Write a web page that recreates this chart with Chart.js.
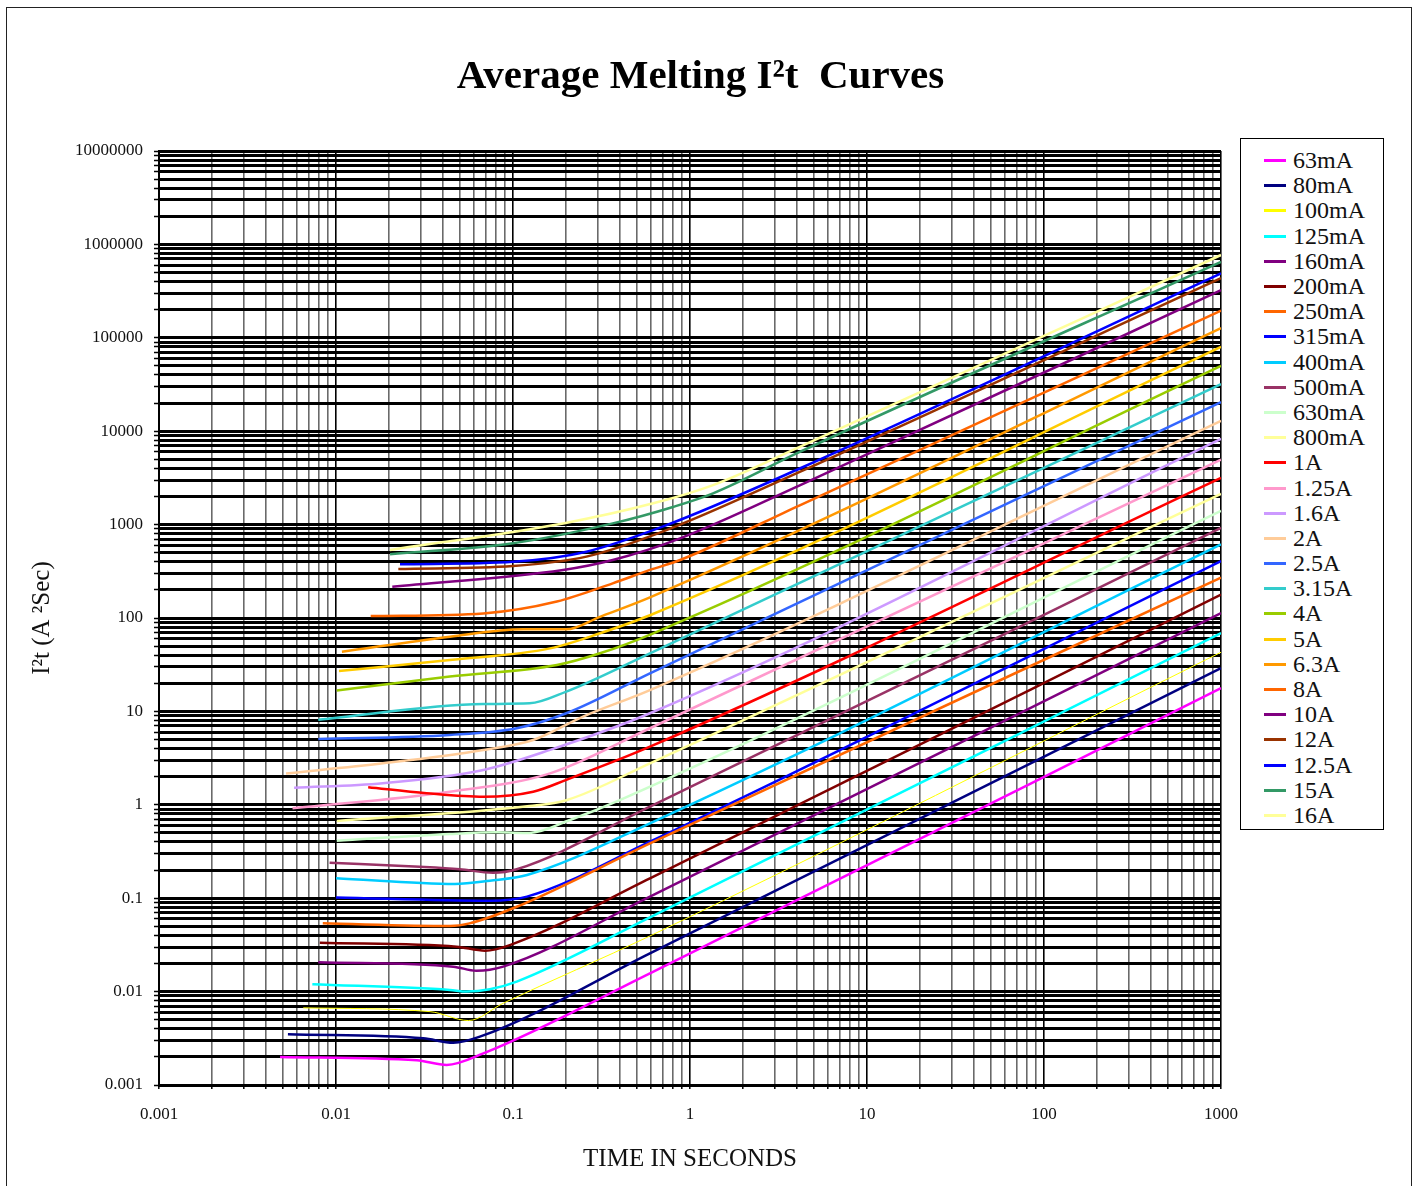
<!DOCTYPE html>
<html>
<head>
<meta charset="utf-8">
<title>Average Melting I2t Curves</title>
<script src="https://cdn.jsdelivr.net/npm/chart.js"></script>
<style>
  html, body { margin: 0; padding: 0; background: #fff; overflow: hidden; }
  #wrap { position: relative; width: 1417px; height: 1186px; }
  #frame { position: absolute; left: 6px; top: 7px; width: 1406px; height: 1220px;
           border: 1.5px solid #222; box-sizing: border-box; }
  #chart-box { position: absolute; left: 0; top: 0; width: 1417px; height: 1186px; }
  #legend { position: absolute; left: 1240px; top: 138px; width: 144px; height: 692px;
            border: 1px solid #000; box-sizing: border-box; padding-top: 9px; background: #fff;
            font-family: 'Liberation Serif', 'Times New Roman', serif; font-size: 24px; color: #111; }
  #legend .item { height: 25.2px; display: flex; align-items: center; white-space: nowrap; }
  #legend .swatch { width: 22px; margin-left: 23px; margin-right: 7px; }
</style>
</head>
<body>
<div id="wrap">
  <div id="frame"></div>
  <div id="chart-box"><canvas id="melting-chart"></canvas></div>
  <div id="legend"></div>
</div>
<script>
// tick labels (decades) for both log axes
const xTickLabels = ['0.001', '0.01', '0.1', '1', '10', '100', '1000'];
const yTickLabels = ['0.001', '0.01', '0.1', '1', '10', '100', '1000', '10000',
                     '100000', '1000000', '10000000'];

// fuse ratings, in legend order
const ratings = ['63mA', '80mA', '100mA', '125mA', '160mA', '200mA', '250mA', '315mA',
                 '400mA', '500mA', '630mA', '800mA', '1A', '1.25A', '1.6A', '2A', '2.5A',
                 '3.15A', '4A', '5A', '6.3A', '8A', '10A', '12A', '12.5A', '15A', '16A'];

// [time in seconds, I2t in A2s]
const c63mA  = [[0.00483, 0.0020], [0.0286, 0.00184], [0.0422, 0.00164], [0.068, 0.00218], [0.594, 0.0157], [1000, 17.8]];
const c80mA  = [[0.00535, 0.00349], [0.0311, 0.00316], [0.046, 0.00284], [0.065, 0.00329], [0.594, 0.0257], [1000, 29]];
const c100mA = [[0.00653, 0.0067], [0.034, 0.0061], [0.056, 0.0049], [0.088, 0.0075], [0.594, 0.0394], [1000, 43]];
const c125mA = [[0.00735, 0.0120], [0.044, 0.0104], [0.0546, 0.0100], [0.074, 0.0106], [0.105, 0.0128], [0.594, 0.0623], [1000, 69]];
const c160mA = [[0.00794, 0.0206], [0.046, 0.0185], [0.0621, 0.0167], [0.088, 0.0185], [0.594, 0.104], [1000, 113]];
const c200mA = [[0.0081, 0.0334], [0.048, 0.0303], [0.0696, 0.0274], [0.096, 0.0315], [0.594, 0.163], [1000, 178]];
const c250mA = [[0.00842, 0.0538], [0.044, 0.0504], [0.0568, 0.0538], [0.105, 0.081], [0.594, 0.387], [1000, 270]];
const c315mA = [[0.0100, 0.102], [0.074, 0.094], [0.12, 0.104], [0.594, 0.403], [1000, 407]];
const c400mA = [[0.0100, 0.164], [0.047, 0.142], [0.074, 0.154], [0.12, 0.177], [0.594, 0.634], [1000, 615]];
const c500mA = [[0.0092, 0.24], [0.0297, 0.217], [0.05, 0.204], [0.077, 0.187], [0.105, 0.204], [0.594, 0.955], [1000, 920]];
const c630mA = [[0.0101, 0.413], [0.044, 0.487], [0.081, 0.507], [0.124, 0.50], [0.21, 0.687], [0.401, 1.12], [1000, 1400]];
const c800mA = [[0.0101, 0.671], [0.124, 0.97], [0.2, 1.12], [0.594, 2.78], [1000, 2130]];
const c1A    = [[0.0152, 1.54], [0.0325, 1.33], [0.068, 1.22], [0.13, 1.38], [0.2, 1.85], [0.594, 4.19], [1000, 3160]];
const c1_25A = [[0.00568, 0.916], [0.044, 1.38], [0.162, 2.17], [0.594, 6.6], [1000, 4950]];
const c1_6A  = [[0.0058, 1.52], [0.0184, 1.70], [0.068, 2.36], [0.162, 3.87], [0.594, 9.55], [1000, 8300]];
const c2A    = [[0.00522, 2.16], [0.0184, 2.78], [0.068, 3.87], [0.13, 4.94], [0.249, 8.8], [0.594, 16.9], [1000, 12900]];
const c2_5A  = [[0.00794, 5.06], [0.044, 5.59], [0.105, 6.6], [0.2, 9.55], [0.594, 25.6], [1000, 20500]];
const c3_15A = [[0.00794, 8.15], [0.068, 12.0], [0.124, 12.2], [0.2, 16.3], [0.594, 41.9], [1000, 32000]];
const c4A    = [[0.0101, 16.7], [0.044, 23.6], [0.177, 31.4], [0.31, 41.9], [0.62, 68.6], [1000, 50000]];
const c5A    = [[0.0104, 27.1], [0.044, 35.5], [0.162, 47.3], [0.31, 68.6], [0.594, 107], [1000, 80000]];
const c6_3A  = [[0.0108, 43.5], [0.044, 63], [0.114, 75.6], [0.2, 75.6], [0.31, 103], [0.594, 166], [1000, 127000]];
const c8A    = [[0.0157, 105], [0.068, 112], [0.177, 150], [0.366, 235], [0.594, 327], [0.88, 418], [4.2, 1620], [1000, 195000]];
const c10A   = [[0.0208, 216], [0.192, 327], [0.366, 418], [0.88, 713], [4.2, 2650], [1000, 323000]];
const c12A   = [[0.0225, 335], [0.1, 360], [0.26, 454], [0.7, 840], [4.2, 3690], [1000, 435000]];
const c12_5A = [[0.023, 376], [0.1, 400], [0.26, 513], [0.7, 950], [4.2, 4010], [1000, 490000]];
const c15A   = [[0.0202, 481], [0.1, 631], [0.366, 1030], [0.81, 1555], [1.35, 2160], [4.2, 6030], [1000, 650000]];
const c16A   = [[0.0202, 534], [0.192, 1030], [0.62, 1690], [1.35, 2650], [4.2, 6840], [1000, 770000]];

const curves = [c63mA, c80mA, c100mA, c125mA, c160mA, c200mA, c250mA, c315mA, c400mA, c500mA,
                c630mA, c800mA, c1A, c1_25A, c1_6A, c2A, c2_5A, c3_15A, c4A, c5A, c6_3A, c8A,
                c10A, c12A, c12_5A, c15A, c16A];

// excel-ish palette, same order as ratings
const curveColors = ['#ff00ff', '#000080', '#ffff00', '#00ffff', '#800080', '#800000', '#ff6600',
                     '#0000ff', '#00ccff', '#993366', '#ccffcc', '#ffff99', '#ff0000', '#ff99cc',
                     '#cc99ff', '#ffcc99', '#3366ff', '#33cccc', '#99cc00', '#ffcc00', '#ff9900',
                     '#ff6600', '#800080', '#993300', '#0000ff', '#339966', '#ffff99'];

const serif = "'Liberation Serif', 'Times New Roman', serif";

// 1..9 x each decade, so every minor line gets a grid line
function decadeTicks(labels) {
  const out = [];
  labels.forEach((l, i) => {
    const base = Number(l);
    if (i === labels.length - 1) { out.push(base); return; }
    for (let k = 1; k <= 9; k++) out.push(Number((base * k).toPrecision(12)));
  });
  return out;
}

function isDecade(v) {
  const e = Math.log10(v);
  return Math.abs(e - Math.round(e)) < 1e-9;
}

function labelFor(labels, v) {
  if (!isDecade(v)) return '';
  const hit = labels.find(l => Math.abs(Math.log10(Number(l)) - Math.log10(v)) < 1e-9);
  return hit || '';
}

const datasets = curves.map((pts, i) => ({
  label: ratings[i],
  data: pts.map(([t, v]) => ({ x: t, y: v })),
  borderColor: curveColors[i],
  backgroundColor: curveColors[i],
  borderWidth: ratings[i] === '100mA' ? 1 : 2.5,
  pointRadius: 0,
  fill: false,
  cubicInterpolationMode: 'monotone'
}));

const chart = new Chart(document.getElementById('melting-chart'), {
  type: 'line',
  data: { datasets },
  options: {
    responsive: true,
    maintainAspectRatio: false,
    animation: false,
    layout: { padding: { left: 0, right: 16, top: 0, bottom: 0 } },
    plugins: {
      legend: { display: false },
      tooltip: { enabled: false },
      title: {
        display: true,
        text: 'Average Melting I\u00b2t  Curves',
        color: '#000',
        font: { family: serif, size: 41, weight: 'bold' },
        padding: { top: 53, bottom: 48.8 }
      }
    },
    scales: {
      x: {
        type: 'logarithmic',
        position: 'bottom',
        min: 0.001,
        max: 1000,
        afterBuildTicks: (scale) => { scale.ticks = decadeTicks(xTickLabels).map(v => ({ value: v })); },
        afterFit: (scale) => { scale.height = 101; },
        ticks: {
          autoSkip: false,
          maxRotation: 0,
          padding: 15,
          color: '#111',
          font: { family: serif, size: 17 },
          callback: (v) => labelFor(xTickLabels, v)
        },
        grid: {
          color: (c) => isDecade(c.tick.value) ? '#000' : '#6a6a6a',
          lineWidth: 1.6,
          drawTicks: true,
          tickLength: 4,
          tickWidth: 1.5,
          tickColor: '#000'
        },
        border: { color: '#000', width: 2 },
        title: {
          display: true,
          text: 'TIME IN SECONDS',
          color: '#111',
          font: { family: serif, size: 25 },
          padding: { top: 0, bottom: 12 }
        }
      },
      y: {
        type: 'logarithmic',
        position: 'left',
        min: 0.001,
        max: 10000000,
        afterBuildTicks: (scale) => { scale.ticks = decadeTicks(yTickLabels).map(v => ({ value: v })); },
        afterFit: (scale) => { scale.width = 159; },
        ticks: {
          autoSkip: false,
          padding: 11,
          color: '#111',
          font: { family: serif, size: 17 },
          callback: (v) => labelFor(yTickLabels, v)
        },
        grid: {
          color: '#000',
          lineWidth: 3,
          drawTicks: true,
          tickLength: 5,
          tickWidth: 1.5,
          tickColor: '#000'
        },
        border: { color: '#000', width: 2 },
        title: {
          display: true,
          text: 'I\u00b2t (A \u00b2Sec)',
          color: '#111',
          font: { family: serif, size: 25 },
          padding: { top: 27, bottom: 0 }
        }
      },
      // empty right-hand strip that keeps room for the legend box
      legendSpace: {
        type: 'linear',
        position: 'right',
        display: true,
        afterFit: (scale) => { scale.width = 180; },
        ticks: { display: false },
        grid: { display: false, drawTicks: false },
        border: { display: false }
      }
    }
  }
});

// html legend built from the datasets
const legendEl = document.getElementById('legend');
chart.data.datasets.forEach((ds) => {
  const row = document.createElement('div');
  row.className = 'item';
  const sw = document.createElement('span');
  sw.className = 'swatch';
  sw.style.height = '3px';
  sw.style.background = ds.borderColor;
  const txt = document.createElement('span');
  txt.textContent = ds.label;
  row.appendChild(sw);
  row.appendChild(txt);
  legendEl.appendChild(row);
});
</script>
</body>
</html>
